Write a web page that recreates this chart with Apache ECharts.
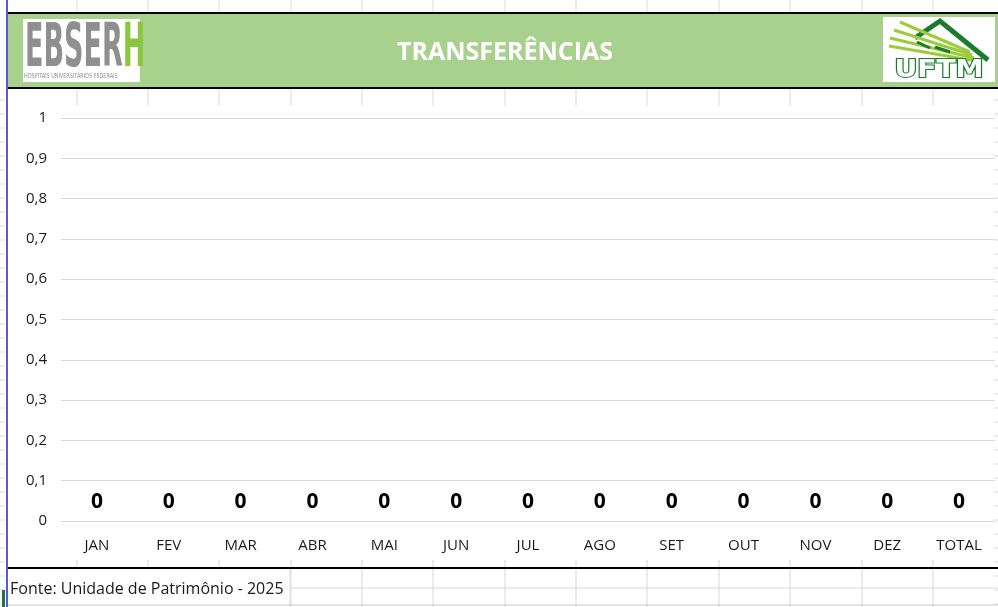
<!DOCTYPE html>
<html>
<head>
<meta charset="utf-8">
<script src="https://cdn.jsdelivr.net/npm/echarts@6/dist/echarts.min.js"></script>
<style>
  html, body { margin: 0; padding: 0; background: #fff; }
  #chart { width: 998px; height: 607px; }
</style>
</head>
<body>
<div id="chart"></div>
<script>
// chart data
const months = ['JAN', 'FEV', 'MAR', 'ABR', 'MAI', 'JUN', 'JUL', 'AGO', 'SET', 'OUT', 'NOV', 'DEZ', 'TOTAL'];
const transferencias = [0, 0, 0, 0, 0, 0, 0, 0, 0, 0, 0, 0, 0];
const yMin = 0;
const yMax = 1;
const yStep = 0.1;
const titleText = 'TRANSFERÊNCIAS';
const sourceText = 'Fonte: Unidade de Patrimônio - 2025';

const font = '"Open Sans", "Noto Sans", sans-serif';
const condensed = '"DejaVu Sans Condensed", "DejaVu Sans", sans-serif';
const cellLine = '#d9d9d9';

// spreadsheet cell borders seen behind the chart
const colX = [77, 148, 219, 291, 362, 433, 505, 576, 647, 719, 790, 862, 933];
const sheetLines = [];
colX.forEach(x => {
  sheetLines.push({ type: 'line', shape: { x1: x, y1: 0, x2: x, y2: 13 }, style: { stroke: cellLine, lineWidth: 1 } });
  sheetLines.push({ type: 'line', shape: { x1: x, y1: 89, x2: x, y2: 106 }, style: { stroke: cellLine, lineWidth: 1 } });
  sheetLines.push({ type: 'line', shape: { x1: x, y1: 560, x2: x, y2: x > 290 ? 607 : 568 }, style: { stroke: cellLine, lineWidth: 1 } });
});
for (let y = 100; y < 607; y += 14) {
  sheetLines.push({ type: 'line', shape: { x1: 0, y1: y, x2: 5, y2: y }, style: { stroke: cellLine, lineWidth: 1 } });
  sheetLines.push({ type: 'line', shape: { x1: 994, y1: y, x2: 998, y2: y }, style: { stroke: cellLine, lineWidth: 1 } });
}

const chart = echarts.init(document.getElementById('chart'));

const option = {
  animation: false,
  backgroundColor: '#ffffff',
  grid: { left: 61, right: 3, top: 118, bottom: 86 },
  xAxis: {
    type: 'category',
    data: months,
    axisLine: { show: false },
    axisTick: { show: false },
    axisLabel: { color: '#1a1a1a', fontSize: 15, fontFamily: font, margin: 17 },
    splitLine: { show: false }
  },
  yAxis: {
    type: 'value',
    min: yMin,
    max: yMax,
    interval: yStep,
    axisLine: { show: false },
    axisTick: { show: false },
    axisLabel: {
      color: '#1a1a1a', fontSize: 15, fontFamily: font, margin: 14,
      formatter: v => (Math.round(v * 10) / 10).toString().replace('.', ',')
    },
    splitLine: { lineStyle: { color: '#d9d9d9', width: 1 } }
  },
  series: [{
    type: 'bar',
    data: transferencias,
    barWidth: '60%',
    itemStyle: { color: '#70ad47' },
    label: {
      show: true,
      position: 'top',
      distance: 8,
      formatter: '{c}',
      color: '#000000',
      fontSize: 21,
      fontWeight: 'bold',
      fontFamily: font
    }
  }],
  graphic: [
    ...sheetLines,
    // header band
    { type: 'rect', shape: { x: 7, y: 13, width: 991, height: 75 }, style: { fill: '#a9d18e' } },
    { type: 'line', shape: { x1: 7, y1: 13, x2: 998, y2: 13 }, style: { stroke: '#000', lineWidth: 2 } },
    { type: 'line', shape: { x1: 7, y1: 88, x2: 998, y2: 88 }, style: { stroke: '#000', lineWidth: 2 } },
    {
      type: 'text', x: 505, y: 53,
      style: { text: titleText, fill: '#ffffff', fontSize: 25, fontWeight: 'bold', fontFamily: font, align: 'center', verticalAlign: 'middle' }
    },
    // EBSERH logo
    { type: 'rect', shape: { x: 23, y: 19, width: 117, height: 63 }, style: { fill: '#ffffff' } },
    {
      type: 'text', x: 25, y: 20, scaleX: 0.5,
      style: {
        text: '{g|EBSER}{h|H}',
        rich: {
          g: { fill: '#8f8f8f', fontSize: 60, fontWeight: 'bold', fontFamily: condensed },
          h: { fill: '#8cc63e', fontSize: 60, fontWeight: 'bold', fontFamily: condensed }
        }
      }
    },
    {
      type: 'text', x: 24, y: 73, scaleX: 0.78,
      style: { text: 'HOSPITAIS UNIVERSITÁRIOS FEDERAIS', fill: '#8f8f8f', fontSize: 7, fontFamily: condensed }
    },
    // UFTM logo
    { type: 'rect', shape: { x: 883, y: 17, width: 112, height: 65 }, style: { fill: '#ffffff' } },
    { type: 'polyline', shape: { points: [[915, 38], [940, 21], [988, 60]] }, style: { stroke: '#1b7a2e', lineWidth: 5, fill: 'none' } },
    { type: 'line', shape: { x1: 900, y1: 22, x2: 970, y2: 52 }, style: { stroke: '#9ccc3c', lineWidth: 3 } },
    { type: 'line', shape: { x1: 894, y1: 30, x2: 972, y2: 55 }, style: { stroke: '#9ccc3c', lineWidth: 3 } },
    { type: 'line', shape: { x1: 890, y1: 38, x2: 974, y2: 58 }, style: { stroke: '#9ccc3c', lineWidth: 3 } },
    { type: 'line', shape: { x1: 889, y1: 46, x2: 976, y2: 61 }, style: { stroke: '#9ccc3c', lineWidth: 3 } },
    { type: 'line', shape: { x1: 917, y1: 42, x2: 930, y2: 48 }, style: { stroke: '#1b7a2e', lineWidth: 3 } },
    { type: 'line', shape: { x1: 935, y1: 47, x2: 950, y2: 52 }, style: { stroke: '#1b7a2e', lineWidth: 3 } },
    {
      type: 'text', x: 939, y: 70, scaleX: 1.25,
      style: { text: 'UFTM', fill: '#ffffff', stroke: '#1b7a2e', lineWidth: 2, fontSize: 25, fontWeight: 'bold', fontFamily: condensed, align: 'center', verticalAlign: 'middle' }
    },
    // side and bottom borders
    { type: 'line', shape: { x1: 7, y1: 0, x2: 7, y2: 607 }, style: { stroke: '#5b5bd0', lineWidth: 2 }, z: 10 },
    { type: 'rect', shape: { x: 2, y: 590, width: 3, height: 17 }, style: { fill: '#217346' } },
    { type: 'line', shape: { x1: 290, y1: 569, x2: 290, y2: 607 }, style: { stroke: cellLine, lineWidth: 1 } },
    { type: 'line', shape: { x1: 290, y1: 588, x2: 998, y2: 588 }, style: { stroke: cellLine, lineWidth: 1 } },
    { type: 'line', shape: { x1: 7, y1: 605, x2: 998, y2: 605 }, style: { stroke: '#c6c6ef', lineWidth: 1 } },
    { type: 'line', shape: { x1: 7, y1: 568, x2: 998, y2: 568 }, style: { stroke: '#000', lineWidth: 2 } },
    {
      type: 'text', x: 10, y: 589,
      style: { text: sourceText, fill: '#1a1a1a', fontSize: 16, fontFamily: font, verticalAlign: 'middle' }
    }
  ]
};

chart.setOption(option);
</script>
</body>
</html>
